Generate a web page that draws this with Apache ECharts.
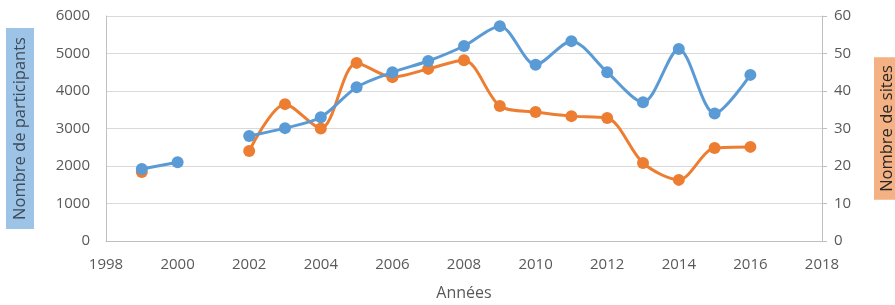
<!DOCTYPE html>
<html>
<head>
<meta charset="utf-8">
<script src="https://cdn.jsdelivr.net/npm/echarts@6/dist/echarts.min.js"></script>
<style>
  html, body { margin: 0; padding: 0; background: #fff; }
  #chart { width: 895px; height: 305px; }
</style>
</head>
<body>
<div id="chart"></div>
<script>
const years = [1999, 2000, 2001, 2002, 2003, 2004, 2005, 2006, 2007, 2008, 2009, 2010, 2011, 2012, 2013, 2014, 2015, 2016]
const participants = [1920, 2100, null, 2800, 3010, 3300, 4100, 4500, 4800, 5200, 5730, 4700, 5330, 4500, 3700, 5120, 3400, 4430]
const sites = [18.4, null, null, 24, 36.5, 30, 47.5, 43.7, 45.9, 48.2, 36, 34.4, 33.3, 32.8, 20.8, 16.3, 24.8, 25.1]

const blue = '#5b9bd5'
const orange = '#ed7d31'
const labelStyle = {
  color: '#595959',
  fontSize: 15,
  fontFamily: 'Open Sans',
  formatter: (v) => String(v),
}

const toPairs = (values) => years.map((y, i) => [y, values[i] === null ? '-' : values[i]])

const chart = echarts.init(document.getElementById('chart'))

chart.setOption({
  animation: false,
  grid: { left: 106, right: 73, top: 16, bottom: 64, containLabel: false, outerBoundsMode: 'none' },
  xAxis: {
    type: 'value',
    min: 1998,
    max: 2018,
    interval: 2,
    name: 'Années',
    nameLocation: 'middle',
    nameGap: 44,
    nameTextStyle: { color: '#595959', fontSize: 16, fontFamily: 'Open Sans' },
    axisLine: { lineStyle: { color: '#bfbfbf' } },
    axisTick: { show: false },
    axisLabel: { ...labelStyle, margin: 16 },
    splitLine: { show: false },
  },
  yAxis: [
    {
      type: 'value',
      min: 0,
      max: 6000,
      interval: 1000,
      name: 'Nombre de participants',
      nameLocation: 'middle',
      nameRotate: 90,
      nameGap: 72,
      nameTextStyle: {
        color: '#3d4a58',
        fontSize: 16.5,
        fontFamily: 'Open Sans',
        backgroundColor: '#9dc3e6',
        padding: [6, 9, 5, 9],
      },
      axisLine: { show: true, lineStyle: { color: '#bfbfbf' } },
      axisTick: { show: false },
      axisLabel: { ...labelStyle, margin: 16 },
      splitLine: { lineStyle: { color: '#d9d9d9' } },
    },
    {
      type: 'value',
      min: 0,
      max: 60,
      interval: 10,
      position: 'right',
      name: 'Nombre de sites',
      nameLocation: 'middle',
      nameRotate: 90,
      nameGap: 52,
      nameTextStyle: {
        color: '#262626',
        fontSize: 16.5,
        fontFamily: 'Open Sans',
        backgroundColor: '#f4b183',
        padding: [5, 8, 4, 8],
      },
      axisLine: { show: true, lineStyle: { color: '#bfbfbf' } },
      axisTick: { show: true, length: 5, lineStyle: { color: '#bfbfbf' } },
      axisLabel: { ...labelStyle, margin: 12 },
      splitLine: { show: false },
    },
  ],
  series: [
    {
      name: 'Participants',
      type: 'line',
      yAxisIndex: 0,
      data: toPairs(participants),
      smooth: 0.3,
      connectNulls: false,
      symbol: 'circle',
      symbolSize: 12,
      itemStyle: { color: blue },
      lineStyle: { color: blue, width: 3 },
      z: 3,
    },
    {
      name: 'Sites',
      type: 'line',
      yAxisIndex: 1,
      data: toPairs(sites),
      smooth: 0.3,
      connectNulls: false,
      symbol: 'circle',
      symbolSize: 12,
      itemStyle: { color: orange },
      lineStyle: { color: orange, width: 3 },
      z: 2,
    },
  ],
})
</script>
</body>
</html>
